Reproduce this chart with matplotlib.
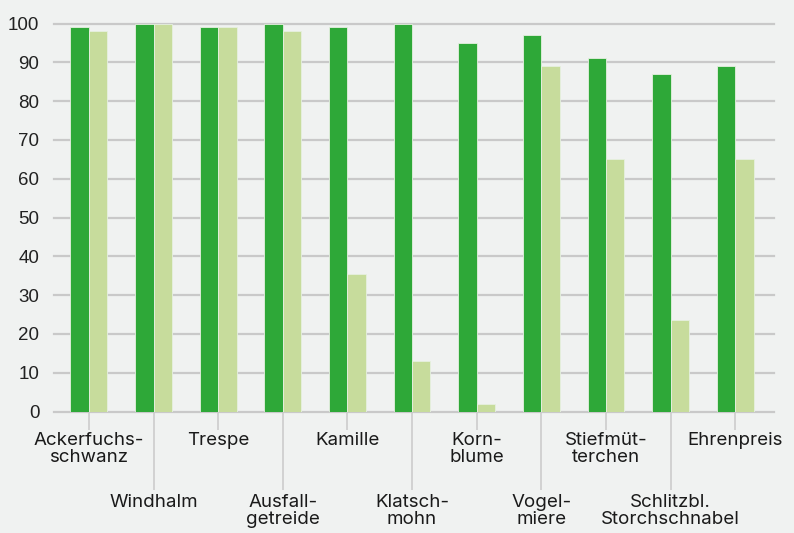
import matplotlib
matplotlib.use("Agg")
import matplotlib.pyplot as plt
from matplotlib import font_manager
import numpy as np

categories = ["Ackerfuchs-\nschwanz", "Windhalm", "Trespe", "Ausfall-\ngetreide",
              "Kamille", "Klatsch-\nmohn", "Korn-\nblume", "Vogel-\nmiere",
              "Stiefmüt-\nterchen", "Schlitzbl.\nStorchschnabel", "Ehrenpreis"]
series_dark = [99, 100, 99, 100, 99, 100, 95, 97, 91, 87, 89]
series_light = [98, 100, 99, 98, 35.5, 13, 2, 89, 65, 23.5, 65]
yticks = [0, 10, 20, 30, 40, 50, 60, 70, 80, 90, 100]

bg = "#f0f2f1"
dark = "#2ea838"
light = "#c7dc9c"
grid_c = "#c9c9c9"

names = {f.name for f in font_manager.fontManager.ttflist}
if "Liberation Sans Narrow" in names:
    yfont, ysize = ["Liberation Sans Narrow", "DejaVu Sans"], 14.5
else:
    yfont, ysize = ["Liberation Sans", "DejaVu Sans"], 13.5
xfont = ["Inter", "Lato", "DejaVu Sans"]

fig = plt.figure(figsize=(7.94, 5.33), dpi=100, facecolor=bg)
ax = fig.add_axes([54/794, 121.5/533, 720/794, 388/533], facecolor=bg)

x = np.arange(len(categories))
w = 0.285
ax.bar(x - w/2, series_dark, width=w, color=dark, edgecolor="#e6f0e0", linewidth=0.6, zorder=3)
ax.bar(x + w/2, series_light, width=w, color=light, edgecolor="#e6f0e0", linewidth=0.6, zorder=3)

ax.set_xlim(-0.54, 10.6)
ax.set_ylim(0, 100)
ax.set_yticks(yticks)
ax.set_yticklabels([str(v) for v in yticks], fontfamily=yfont, fontsize=ysize, color="#222222")
ax.yaxis.grid(True, color=grid_c, linewidth=1.6, zorder=0)
for gl in ax.get_ygridlines():
    gl.set_clip_on(False)
ax.tick_params(axis="y", length=0, pad=10.5)

for s in ax.spines.values():
    s.set_visible(False)

even = x[::2]
odd = x[1::2]
ax.set_xticks(even)
ax.set_xticklabels([categories[i] for i in even], fontfamily=xfont, fontsize=13.5,
                   color="#1a1a1a", linespacing=1.0)
ax.set_xticks(odd, minor=True)
ax.set_xticklabels([categories[i] for i in odd], minor=True, fontfamily=xfont,
                   fontsize=13.5, color="#1a1a1a", linespacing=1.0)
ax.tick_params(axis="x", which="major", length=12.6, width=1.1, color=grid_c, pad=2)
ax.tick_params(axis="x", which="minor", length=56.5, width=1.1, color=grid_c, pad=3)

fig.savefig("out.png", dpi=100, facecolor=bg)
